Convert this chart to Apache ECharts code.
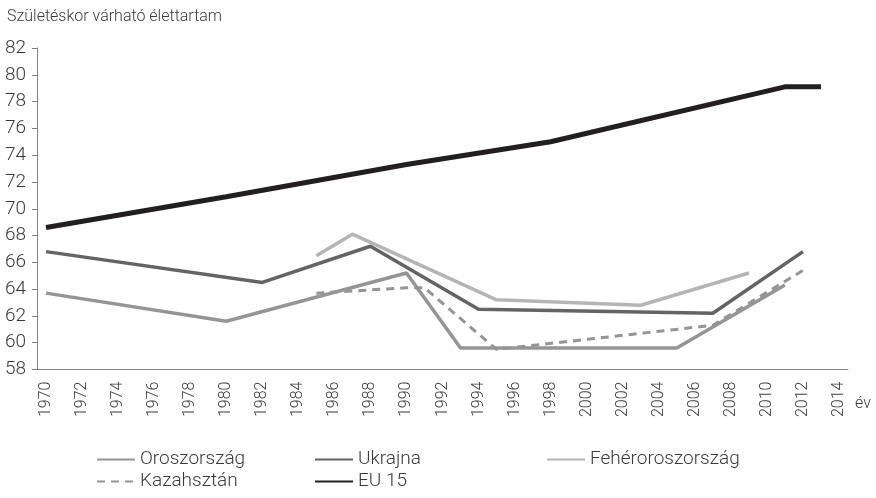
<!DOCTYPE html>
<html>
<head>
<meta charset="utf-8">
<script src="https://cdn.jsdelivr.net/npm/echarts@6/dist/echarts.min.js"></script>
<style>
  html, body { margin: 0; padding: 0; background: #fff; }
  #main { width: 876px; height: 498px; }
</style>
</head>
<body>
<div id="main"></div>
<script>
  // years on the x axis (category), labels every 2nd year
  const years = [];
  for (let y = 1970; y <= 2014; y++) years.push(String(y));

  const ruYears = [1970, 1980, 1990, 1993, 2005, 2011];
  const ruValues = [63.7, 61.6, 65.2, 59.6, 59.6, 64.3];

  const uaYears = [1970, 1982, 1988, 1994, 2007, 2012];
  const uaValues = [66.8, 64.5, 67.2, 62.5, 62.2, 66.8];

  const byYears = [1985, 1987, 1995, 2003, 2009];
  const byValues = [66.5, 68.1, 63.2, 62.8, 65.2];

  const kzYears = [1985, 1990, 1991, 1995, 2007, 2012];
  const kzValues = [63.7, 64.1, 64.1, 59.5, 61.3, 65.4];

  const euYears = [1970, 1980, 1990, 1998, 2011, 2013];
  const euValues = [68.6, 70.9, 73.3, 75.0, 79.1, 79.1];

  const font = 'Roboto';
  const textColor = '#3a3a3a';
  const axisColor = '#808080';

  function pairs(ys, vs) {
    return ys.map((y, i) => [String(y), vs[i]]);
  }

  function line(name, ys, vs, color, width, type) {
    return {
      name: name,
      type: 'line',
      symbol: 'none',
      data: pairs(ys, vs),
      lineStyle: { color: color, width: width, type: type || 'solid' },
      itemStyle: { color: color },
      emphasis: { disabled: true }
    };
  }

  const legendText = { fontFamily: font, fontWeight: 300, fontSize: 19, color: textColor, lineHeight: 20 };

  function legendCol(left, names) {
    return {
      left: left, top: 449.5, orient: 'vertical', padding: 0,
      itemWidth: 38, itemHeight: 14, itemGap: 2,
      itemStyle: { color: 'transparent', borderWidth: 0 },
      data: names, textStyle: legendText, selectedMode: false
    };
  }

  const chart = echarts.init(document.getElementById('main'));
  chart.setOption({
    animation: false,
    title: {
      text: 'Születéskor várható élettartam',
      left: 2,
      top: 4,
      textStyle: { fontFamily: font, fontWeight: 300, fontSize: 16, color: textColor }
    },
    legend: [
      legendCol(96, ['Oroszország', 'Kazahsztán']),
      legendCol(314, ['Ukrajna', 'EU 15']),
      legendCol(546, ['Fehéroroszország'])
    ],
    grid: { left: 37, right: 28, top: 48, bottom: 128.5 },
    xAxis: {
      type: 'category',
      data: years,
      boundaryGap: true,
      name: 'év',
      nameLocation: 'end',
      nameGap: 7,
      nameTextStyle: { fontFamily: font, fontWeight: 300, fontSize: 16, color: textColor,
        verticalAlign: 'top', padding: [26, 0, 0, 0] },
      axisLine: { lineStyle: { color: axisColor, width: 1 } },
      axisTick: { interval: 0, length: 5, lineStyle: { color: axisColor } },
      axisLabel: { interval: 1, rotate: 90, margin: 12, fontFamily: font, fontWeight: 300,
        fontSize: 16, color: textColor },
      splitLine: { show: false }
    },
    yAxis: {
      type: 'value',
      min: 58,
      max: 82,
      interval: 2,
      axisLine: { show: true, lineStyle: { color: axisColor, width: 1 } },
      axisTick: { show: true, length: 5, lineStyle: { color: axisColor } },
      axisLabel: { margin: 11, fontFamily: font, fontWeight: 300, fontSize: 19, color: textColor },
      splitLine: { show: false }
    },
    series: [
      line('Oroszország', ruYears, ruValues, '#959595', 3.5),
      line('Ukrajna', uaYears, uaValues, '#646464', 3.5),
      line('Fehéroroszország', byYears, byValues, '#b5b5b5', 3.5),
      line('Kazahsztán', kzYears, kzValues, '#959595', 3, [8, 6]),
      line('EU 15', euYears, euValues, '#231f20', 5)
    ]
  });
</script>
</body>
</html>
